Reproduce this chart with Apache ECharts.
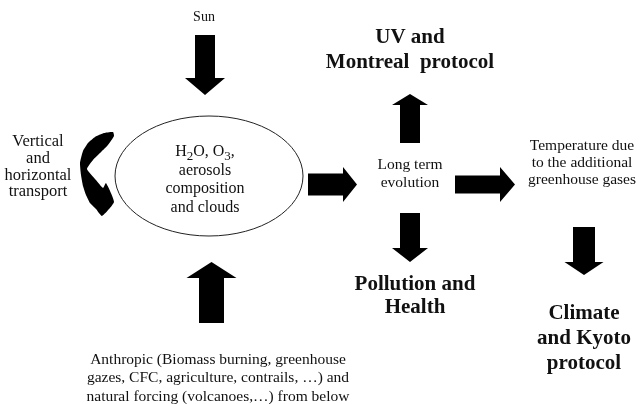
<!DOCTYPE html>
<html>
<head>
<meta charset="utf-8">
<script src="https://cdn.jsdelivr.net/npm/echarts@6/dist/echarts.min.js"></script>
<style>
  html, body { margin: 0; padding: 0; background: #fff; }
  #main { width: 640px; height: 404px; }
</style>
</head>
<body>
<div id="main"></div>
<script>
// texts of the diagram
var sunText = ['Sun'];
var transportText = ['Vertical', 'and', 'horizontal', 'transport'];
var boxText = ['H{s|2}O, O{s|3},', 'aerosols', 'composition', 'and clouds'];
var evolutionText = ['Long term', 'evolution'];
var uvText = ['UV and', 'Montreal  protocol'];
var pollutionText = ['Pollution and', 'Health'];
var temperatureText = ['Temperature due', 'to the additional', 'greenhouse gases'];
var climateText = ['Climate', 'and Kyoto', 'protocol'];
var forcingText = [
    'Anthropic (Biomass burning, greenhouse',
    'gazes, CFC, agriculture, contrails, \u2026) and',
    'natural forcing (volcanoes,\u2026) from below'
];

var serif = "'Liberation Serif', 'DejaVu Serif', serif";

// block arrow as polygon; vertical: x centre, tail y, tip y
function vArrow(cx, tail, tip, shaftW, headW, headL) {
    var s = tip > tail ? 1 : -1;
    var base = tip - s * headL;
    return {
        type: 'polygon',
        shape: { points: [
            [cx - shaftW / 2, tail], [cx + shaftW / 2, tail], [cx + shaftW / 2, base],
            [cx + headW / 2, base], [cx, tip], [cx - headW / 2, base], [cx - shaftW / 2, base]
        ] },
        style: { fill: '#000' }
    };
}
function hArrow(cy, tail, tip, shaftW, headW, headL) {
    var base = tip - headL;
    return {
        type: 'polygon',
        shape: { points: [
            [tail, cy - shaftW / 2], [base, cy - shaftW / 2], [base, cy - headW / 2],
            [tip, cy], [base, cy + headW / 2], [base, cy + shaftW / 2], [tail, cy + shaftW / 2]
        ] },
        style: { fill: '#000' }
    };
}

// curved "<" arrow on the left of the ellipse
function curvedArrow() {
    var pts = [
        [113, 132], [104, 133], [95, 137], [88, 143], [83, 151], [80, 163],
        [81, 175], [83, 186], [86, 195], [90, 203], [96, 209], [102, 216],
        [114, 202], [106, 183], [103, 188], [96, 180], [87, 169],
        [93, 160], [101, 152], [108, 145], [114, 136]
    ];
    return { type: 'polygon', shape: { points: pts, smooth: 0.15 }, style: { fill: '#000' } };
}

function lines(arr, x, y, size, lh, bold, extra) {
    var st = {
        text: arr.join('\n'),
        x: x, y: y,
        fontFamily: serif,
        fontSize: size,
        fontWeight: bold ? 'bold' : 'normal',
        lineHeight: lh,
        fill: '#111',
        align: 'center',
        verticalAlign: 'middle'
    };
    if (extra) for (var k in extra) st[k] = extra[k];
    return { type: 'text', style: st };
}

var elements = [
    lines(sunText, 204, 17, 14, 16),
    vArrow(205, 35, 95, 20, 40, 17),
    curvedArrow(),
    lines(transportText, 38, 167, 16.5, 16.7),
    { type: 'ellipse', shape: { cx: 209, cy: 176, rx: 94, ry: 60 },
      style: { fill: '#fff', stroke: '#222', lineWidth: 1 } },
    lines(boxText, 205, 180, 16, 18.5, false, {
        rich: { s: { fontFamily: serif, fontSize: 13, padding: [8, 0, 0, 0], lineHeight: 18.5, fill: '#111' } }
    }),
    hArrow(184.5, 308, 357, 22, 35, 14),
    lines(evolutionText, 410, 174, 15.5, 18),
    vArrow(410, 143, 94, 20, 36, 11),
    lines(uvText, 410, 50, 21, 25, true),
    vArrow(410, 213, 262, 20, 36, 14),
    lines(pollutionText, 415, 296, 21, 23, true),
    hArrow(184.5, 455, 515, 18, 35, 15),
    lines(temperatureText, 582, 163, 15.5, 17),
    vArrow(584, 227, 275, 22, 39, 13),
    lines(climateText, 584, 339, 21, 25, true),
    vArrow(211.5, 323, 262, 25, 50, 16),
    lines(forcingText, 218, 378, 15.5, 18.5)
];

var chart = echarts.init(document.getElementById('main'));
chart.setOption({
    backgroundColor: '#fff',
    textStyle: { fontFamily: serif },
    graphic: { elements: elements }
});
</script>
</body>
</html>
